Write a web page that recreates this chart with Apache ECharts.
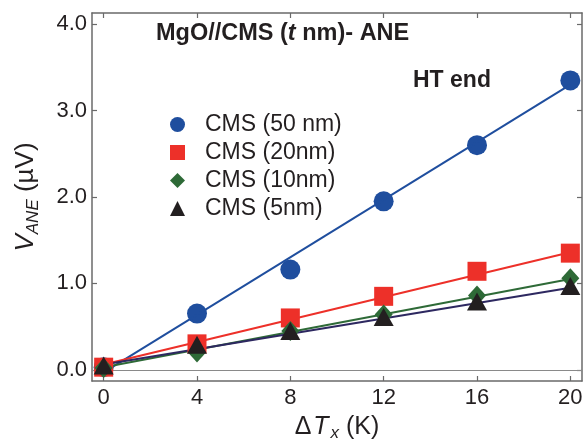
<!DOCTYPE html>
<html>
<head>
<meta charset="utf-8">
<script src="https://cdn.jsdelivr.net/npm/echarts@6/dist/echarts.min.js"></script>
<style>
  html, body { margin: 0; padding: 0; background: #fff; }
  #chart { width: 585px; height: 442px; }
</style>
</head>
<body>
<div id="chart"></div>
<script>
// Temperature differences (K)
const deltaT = [0, 4, 8, 12, 16, 20];

// Measured ANE voltages (µV) for each CMS thickness
const cms50 = [0.03, 0.65, 1.16, 1.95, 2.60, 3.35];
const cms20 = [0.03, 0.30, 0.60, 0.85, 1.14, 1.35];
const cms10 = [0.02, 0.20, 0.45, 0.64, 0.86, 1.06];
const cms5  = [0.05, 0.29, 0.45, 0.61, 0.79, 0.97];

// Linear fit endpoints (at ΔT = 0 and ΔT = 20)
const fitX   = [0, 20];
const fit50  = [-0.03, 3.30];
const fit20  = [0.06, 1.36];
const fit10  = [0.03, 1.05];
const fit5   = [0.06, 0.95];

// Tick labels
const xTicks = [0, 4, 8, 12, 16, 20];
const yTicks = [0, 1, 2, 3, 4];

const names = ['CMS (50 nm)', 'CMS (20nm)', 'CMS (10nm)', 'CMS (5nm)'];

const pts = (xs, ys) => xs.map((x, i) => [x, ys[i]]);

const textColor = '#231f20';
const frameColor = '#6a6a6a';
const fontFam = 'Liberation Sans, Arial, Helvetica, sans-serif';

const colors = {
  blue: '#1f4e9e',
  red: '#ed3029',
  green: '#2e6a37',
  tri: '#231f20',
  triLine: '#2d2860'
};

function fitLine(ys, color, z) {
  return {
    type: 'line', data: pts(fitX, ys), symbol: 'none', silent: true,
    lineStyle: { color: color, width: 2 }, z: z, animation: false
  };
}

function markers(name, ys, symbol, size, color, z) {
  return {
    type: 'scatter', name: name, data: pts(deltaT, ys), symbol: symbol,
    symbolSize: size, itemStyle: { color: color, opacity: 1 }, z: z, animation: false
  };
}

const tickStyle = { show: true, inside: true, length: 5, lineStyle: { color: frameColor, width: 1.2 } };
const lineStyle = { show: true, onZero: false, lineStyle: { color: frameColor, width: 1.5 } };

const option = {
  animation: false,
  backgroundColor: '#fff',
  grid: { left: 92, right: 3, top: 13, bottom: 61, show: false, containLabel: false, outerBoundsMode: 'none' },
  legend: {
    data: names,
    orient: 'vertical',
    left: 165, top: 108,
    itemWidth: 15, itemHeight: 15, itemGap: 5,
    selectedMode: false,
    textStyle: { fontFamily: fontFam, fontSize: 23, color: textColor, padding: [0, 0, 0, 15], lineHeight: 23 }
  },
  xAxis: [{
    type: 'value', min: -0.5, max: 20.5, position: 'bottom',
    axisLine: lineStyle,
    axisTick: Object.assign({ customValues: xTicks }, tickStyle),
    splitLine: { show: false },
    axisLabel: { customValues: xTicks, fontFamily: fontFam, fontSize: 22, color: textColor, margin: 6 },
    name: '{a|Δ}{t|T}{s|x}{a| (K)}',
    nameLocation: 'middle', nameGap: 31,
    nameTextStyle: {
      rich: {
        a: { fontFamily: fontFam, fontSize: 25, color: textColor, lineHeight: 30 },
        t: { fontFamily: fontFam, fontSize: 25, fontStyle: 'italic', color: textColor, lineHeight: 30, padding: [0, 2, 0, 2] },
        s: { fontFamily: fontFam, fontSize: 17, fontStyle: 'italic', color: textColor, lineHeight: 14, verticalAlign: 'bottom' }
      }
    }
  }, {
    type: 'value', min: -0.5, max: 20.5, position: 'top',
    axisLine: lineStyle,
    axisTick: Object.assign({ customValues: xTicks }, tickStyle),
    axisLabel: { show: false }, splitLine: { show: false }
  }],
  yAxis: [{
    type: 'value', min: -0.13, max: 4.13, position: 'left',
    axisLine: lineStyle,
    axisTick: Object.assign({ customValues: yTicks }, tickStyle),
    splitLine: { show: false },
    axisLabel: { customValues: yTicks, formatter: v => v.toFixed(1), fontFamily: fontFam, fontSize: 22, color: textColor, margin: 5 },
    name: '{v|V}{s|ANE}{a| (µV)}',
    nameLocation: 'middle', nameGap: 50,
    nameTextStyle: {
      rich: {
        v: { fontFamily: fontFam, fontSize: 26, fontStyle: 'italic', color: textColor, lineHeight: 32 },
        a: { fontFamily: fontFam, fontSize: 26, color: textColor, lineHeight: 32 },
        s: { fontFamily: fontFam, fontSize: 17, fontStyle: 'italic', color: textColor, lineHeight: 14, verticalAlign: 'bottom' }
      }
    }
  }, {
    type: 'value', min: -0.13, max: 4.13, position: 'right',
    axisLine: lineStyle,
    axisTick: Object.assign({ customValues: yTicks }, tickStyle),
    axisLabel: { show: false }, splitLine: { show: false }
  }],
  graphic: [{
    type: 'text', left: 156, top: 22,
    style: {
      text: '{b|MgO//CMS (}{i|t}{b| nm)- ANE}',
      rich: {
        b: { fontFamily: fontFam, fontSize: 23.5, fontWeight: 'bold', fill: textColor },
        i: { fontFamily: fontFam, fontSize: 23.5, fontWeight: 'bold', fontStyle: 'italic', fill: textColor }
      }
    }
  }, {
    type: 'text', left: 413, top: 69,
    style: { text: 'HT end', fontFamily: fontFam, fontSize: 23, fontWeight: 'bold', fill: textColor }
  }],
  series: [
    {
      type: 'line', data: [], silent: true,
      markLine: {
        silent: true, symbol: 'none', label: { show: false },
        lineStyle: { color: '#8a8a8a', width: 1, type: 'solid' },
        data: [{ yAxis: 0 }]
      }, z: 1
    },
    markers(names[0], cms50, 'circle', 20, colors.blue, 3),
    fitLine(fit50, colors.blue, 4),
    markers(names[1], cms20, 'rect', 19, colors.red, 5),
    fitLine(fit20, colors.red, 4),
    markers(names[2], cms10, 'diamond', [18, 20], colors.green, 6),
    fitLine(fit10, colors.green, 4),
    markers(names[3], cms5, 'triangle', [20, 18], colors.tri, 7),
    fitLine(fit5, colors.triLine, 4)
  ]
};

const chart = echarts.init(document.getElementById('chart'), null, { renderer: 'canvas' });
chart.setOption(option);
</script>
</body>
</html>
